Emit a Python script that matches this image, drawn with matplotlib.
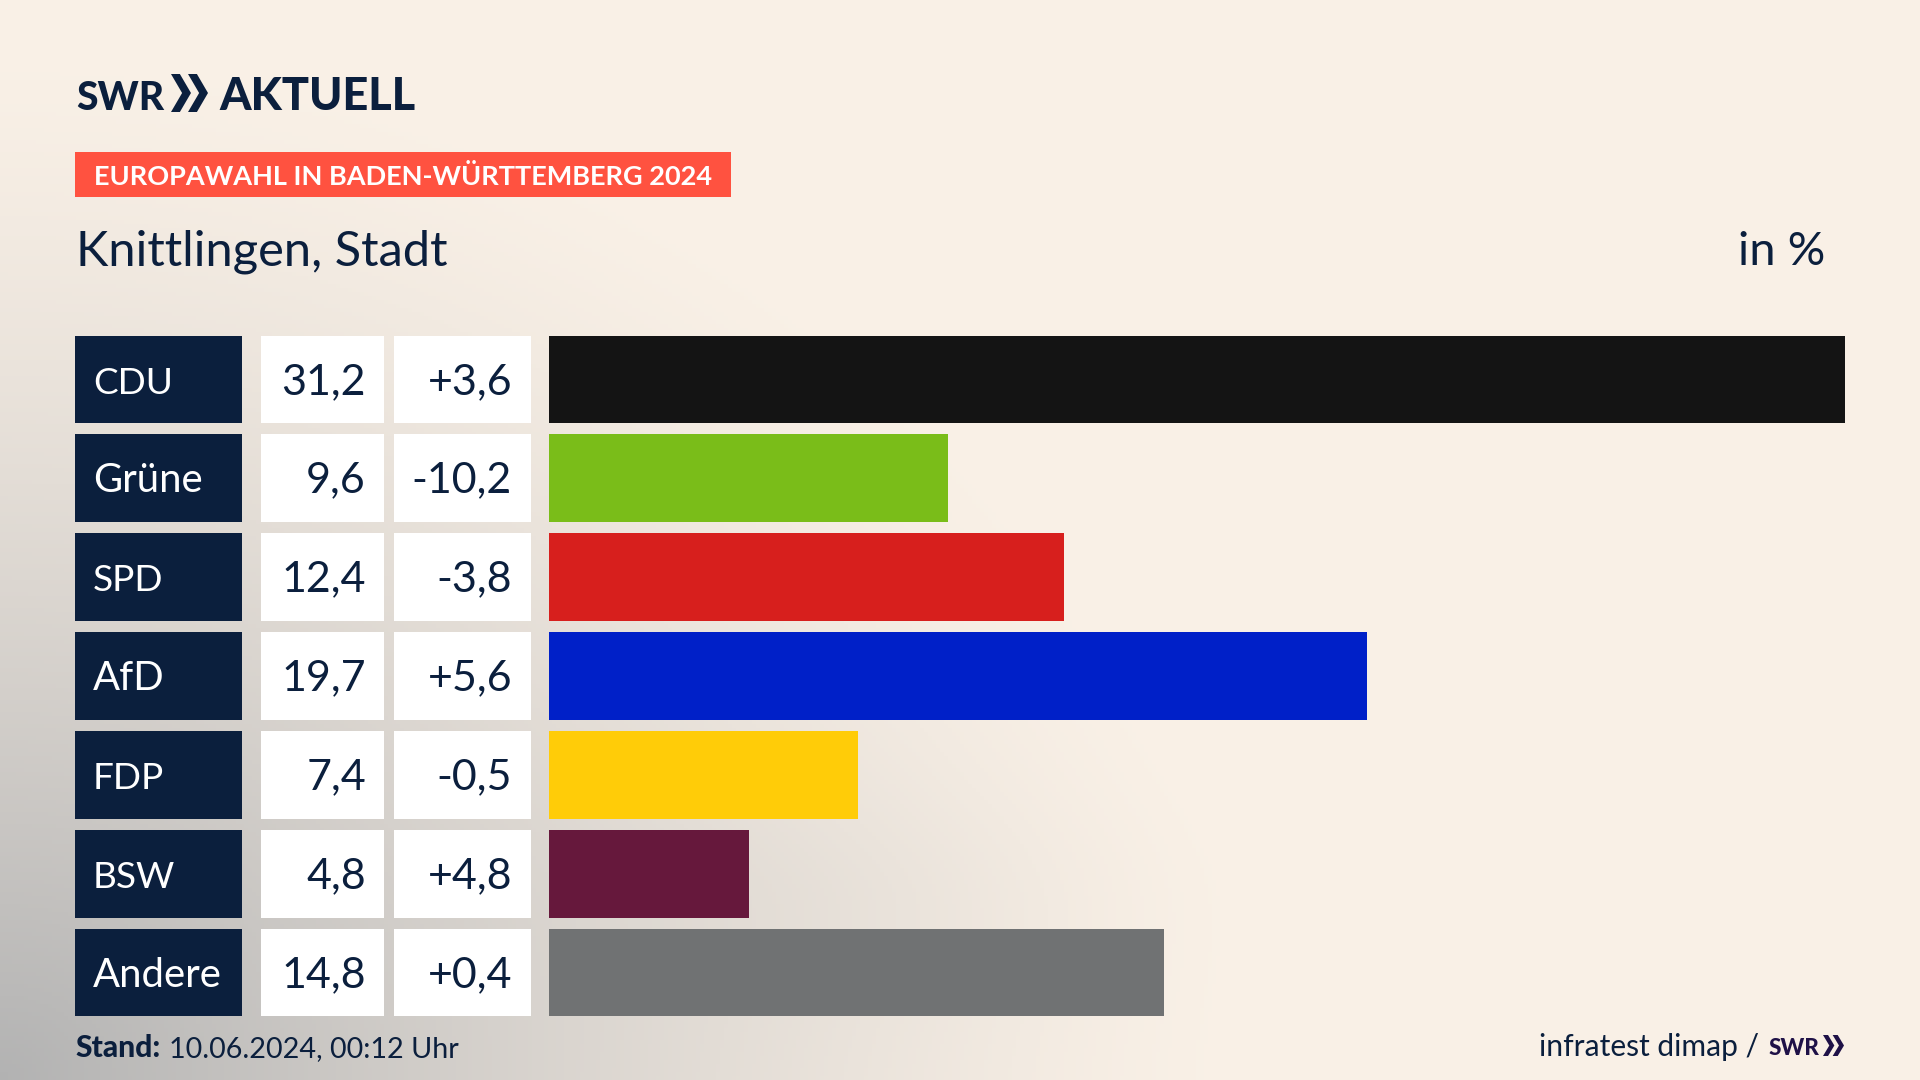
import numpy as np
import matplotlib
matplotlib.use("Agg")
import matplotlib.pyplot as plt
from matplotlib.patches import Rectangle, Polygon

# data
parties = ["CDU", "Grüne", "SPD", "AfD", "FDP", "BSW", "Andere"]
shares = [31.2, 9.6, 12.4, 19.7, 7.44, 4.81, 14.8]
share_labels = ["31,2", "9,6", "12,4", "19,7", "7,4", "4,8", "14,8"]
changes = ["+3,6", "-10,2", "-3,8", "+5,6", "-0,5", "+4,8", "+0,4"]
bar_colors = ["#141414", "#7ABD19", "#D71F1D", "#0020C8", "#FFCC08", "#66183C", "#707273"]

NAVY = "#0B1F3D"
PURPLE = "#1F1147"
W, H = 1920, 1080

plt.rcParams["font.family"] = ["Lato", "DejaVu Sans"]


def px(size):
    return size * 0.72


fig = plt.figure(figsize=(19.2, 10.8), dpi=100)

# page in pixel coordinates
bg = fig.add_axes([0, 0, 1, 1])
bg.set_xlim(0, W)
bg.set_ylim(H, 0)
bg.axis("off")

# soft grey glow from the lower left corner
xx, yy = np.meshgrid(np.linspace(0, W, 480), np.linspace(0, H, 270))
d = np.sqrt((xx / 1250) ** 2 + ((H - yy) / 1050) ** 2)
t = np.clip(1 - d, 0, 1) ** 1.35
blob = 0.06 * np.exp(-(((xx - 850) / 280) ** 2 + ((yy - 900) / 110) ** 2))
t = np.clip(t + blob, 0, 1)
cream = np.array([0.98, 0.945, 0.905])
grey = np.array([0.70, 0.70, 0.70])
img = cream + (grey - cream) * t[..., None]
bg.imshow(img, extent=(0, W, H, 0), aspect="auto", zorder=0)


def chevrons(x, top, bottom, width, color):
    # the two arrow heads of the logo
    mid = (top + bottom) / 2
    tip = width * 0.54
    body = width * 0.24
    for off in (0, width * 0.46):
        pts = [(x + off, top), (x + off + body, top), (x + off + tip, mid),
               (x + off + body, bottom), (x + off, bottom), (x + off + tip - body, mid)]
        bg.add_patch(Polygon(pts, closed=True, facecolor=color, edgecolor="none", zorder=3))


# header
bg.text(76, 110, "SWR", fontsize=px(39), fontweight="black", color=NAVY, va="baseline")
chevrons(171, 74, 112, 37, NAVY)
bg.text(219, 110, "AKTUELL", fontsize=px(45), fontweight="black", color=NAVY, va="baseline")

bg.add_patch(Rectangle((75, 152), 656, 45, facecolor="#FF5240", edgecolor="none", zorder=2))
bg.text(94, 185, "EUROPAWAHL IN BADEN-WÜRTTEMBERG 2024", fontsize=px(27.1), fontweight="bold",
        color="white", va="baseline", zorder=3)
bg.text(76, 265, "Knittlingen, Stadt", fontsize=px(48.8), color=NAVY, va="baseline")
bg.text(1825, 265, "in %", fontsize=px(47), color=NAVY, va="baseline", ha="right")

# rows
row_tops = [336, 434, 533, 632, 731, 830, 929]
row_heights = [87, 88, 88, 88, 88, 88, 87]
for top, h, party, share, change in zip(row_tops, row_heights, parties, share_labels, changes):
    bg.add_patch(Rectangle((75, top), 167, h, facecolor=NAVY, edgecolor="none", zorder=2))
    bg.add_patch(Rectangle((261, top), 123, h, facecolor="white", edgecolor="none", zorder=2))
    bg.add_patch(Rectangle((394, top), 137, h, facecolor="white", edgecolor="none", zorder=2))
    label_size = 37 if party.isupper() else 40
    bg.text(93, top + 58, party, fontsize=px(label_size), color="white", va="baseline", zorder=3)
    bg.text(366, top + 58, share, fontsize=px(43), color=NAVY, va="baseline", ha="right", zorder=3)
    bg.text(512, top + 58, change, fontsize=px(43), color=NAVY, va="baseline", ha="right", zorder=3)

# bars
ax = fig.add_axes([549 / W, 1 - 1016 / H, (1845 - 549) / W, (1016 - 336) / H])
ax.patch.set_alpha(0)
ax.set_xlim(0, 31.2)
ax.set_ylim(1016, 336)
ax.barh([t_ + h / 2 for t_, h in zip(row_tops, row_heights)], shares, height=row_heights, color=bar_colors)
ax.axis("off")

# footer
bg.text(75, 1057, "Stand:", fontsize=px(30), fontweight="black", color=NAVY, va="baseline")
bg.text(169, 1057, "10.06.2024, 00:12 Uhr", fontsize=px(28.8), color=NAVY, va="baseline")
bg.text(1759, 1056, "infratest dimap /", fontsize=px(30), color=NAVY, va="baseline", ha="right")
bg.text(1769, 1055, "SWR", fontsize=px(22.5), fontweight="black", color=PURPLE, va="baseline")
chevrons(1823, 1035, 1056, 21, PURPLE)

fig.savefig("out.png", dpi=100)
